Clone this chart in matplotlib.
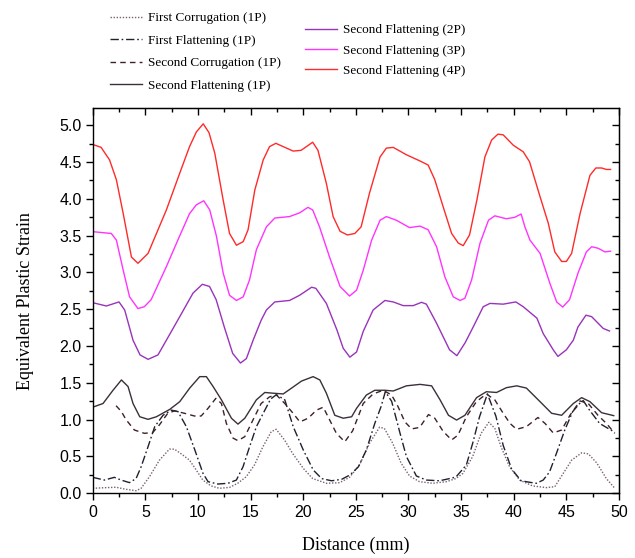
import matplotlib
matplotlib.use("Agg")
import matplotlib.pyplot as plt
from matplotlib.ticker import MultipleLocator, FormatStrFormatter

# ---------------- data ----------------
x_4p = [0, 0.8, 1.6, 2.25, 2.9, 3.68, 4.3, 5.26, 7.0, 8.27, 9.2, 9.85, 10.5, 11.05, 11.6, 12.4, 13.0,
        13.66, 14.3, 14.76, 15.4, 16.2, 16.8, 17.4, 18.1, 19.04, 19.8, 20.9, 21.4, 22.2, 22.84, 23.5,
        24.2, 24.9, 25.5, 26.3, 27.3, 27.9, 28.55, 29.8, 31.1, 31.87, 32.5, 33.3, 34.1, 34.73, 35.2,
        35.8, 36.5, 37.26, 37.9, 38.5, 39.0, 39.95, 40.9, 41.5, 42.5, 43.28, 43.9, 44.55, 45.0, 45.5,
        46.3, 47.24, 47.8, 48.35, 48.8, 49.2]
y_4p = [4.74, 4.70, 4.53, 4.26, 3.80, 3.21, 3.125, 3.26, 3.85, 4.35, 4.71, 4.91, 5.02, 4.90, 4.62, 3.98,
        3.53, 3.37, 3.42, 3.58, 4.12, 4.53, 4.71, 4.755, 4.71, 4.65, 4.66, 4.77, 4.66, 4.21, 3.76, 3.56,
        3.51, 3.53, 3.62, 4.08, 4.57, 4.69, 4.70, 4.60, 4.515, 4.46, 4.26, 3.89, 3.53, 3.40, 3.365, 3.51,
        3.985, 4.57, 4.80, 4.88, 4.87, 4.73, 4.64, 4.505, 4.03, 3.67, 3.28, 3.15, 3.15, 3.26, 3.80, 4.32,
        4.42, 4.42, 4.40, 4.40]

x_3p = [0, 1.77, 2.25, 2.9, 3.5, 4.3, 4.9, 5.55, 7.0, 8.24, 9.2, 9.85, 10.55, 11.12, 11.76, 12.4, 13.0,
        13.66, 14.3, 14.9, 15.55, 16.5, 17.3, 18.7, 19.65, 20.45, 20.9, 21.55, 22.5, 23.5, 24.4, 25.07,
        25.7, 26.5, 27.3, 27.9, 28.85, 30.1, 31.1, 31.87, 32.67, 33.46, 34.25, 34.9, 35.36, 36.0, 36.8,
        37.6, 38.2, 39.3, 40.1, 40.7, 41.06, 41.54, 42.5, 43.44, 44.08, 44.65, 45.3, 46.1, 46.9, 47.4,
        48.0, 48.67, 49.2]
y_3p = [3.555, 3.53, 3.44, 3.03, 2.67, 2.51, 2.535, 2.63, 3.08, 3.49, 3.80, 3.92, 3.975, 3.85, 3.49, 2.99,
        2.69, 2.62, 2.67, 2.90, 3.31, 3.62, 3.74, 3.76, 3.81, 3.885, 3.85, 3.62, 3.21, 2.81, 2.68, 2.76,
        3.03, 3.44, 3.71, 3.76, 3.71, 3.61, 3.63, 3.58, 3.35, 2.94, 2.67, 2.62, 2.65, 2.90, 3.40, 3.71,
        3.77, 3.73, 3.75, 3.795, 3.62, 3.44, 3.26, 2.85, 2.60, 2.53, 2.63, 2.99, 3.28, 3.35, 3.33, 3.28,
        3.29]

x_2p = [0, 1.3, 2.5, 3.04, 3.83, 4.5, 5.26, 6.2, 7.0, 8.27, 9.53, 10.42, 11.1, 11.73, 12.5, 13.3, 14.04,
        14.6, 15.24, 16.0, 16.5, 17.3, 18.7, 19.65, 20.8, 21.2, 22.2, 23.2, 23.8, 24.43, 25.07, 25.7,
        26.64, 27.76, 28.55, 29.5, 30.45, 31.24, 31.7, 32.67, 33.9, 34.6, 35.4, 36.15, 37.1, 37.74, 39.0,
        40.2, 40.9, 42.2, 42.8, 43.75, 44.2, 45.0, 45.66, 46.1, 46.86, 47.4, 48.5, 49.1]
y_2p = [2.59, 2.545, 2.60, 2.49, 2.08, 1.88, 1.82, 1.88, 2.08, 2.40, 2.72, 2.84, 2.81, 2.63, 2.26, 1.90,
        1.77, 1.83, 2.08, 2.35, 2.49, 2.60, 2.62, 2.69, 2.80, 2.785, 2.58, 2.22, 1.97, 1.85, 1.92, 2.20,
        2.49, 2.62, 2.60, 2.55, 2.55, 2.595, 2.57, 2.31, 1.95, 1.87, 2.05, 2.26, 2.535, 2.58, 2.57, 2.60,
        2.535, 2.38, 2.17, 1.95, 1.86, 1.95, 2.08, 2.26, 2.42, 2.40, 2.24, 2.205]

x_sf1 = [0, 0.98, 1.93, 2.73, 3.36, 3.83, 4.47, 5.26, 6.05, 7.32, 8.27, 9.22, 10.17, 10.8, 11.44, 12.23,
         13.18, 13.8, 14.45, 15.55, 16.35, 17.14, 18.1, 18.9, 19.84, 20.94, 21.58, 22.2, 23.0, 23.8, 24.6,
         25.07, 26.0, 26.8, 27.76, 28.55, 29.8, 31.1, 32.2, 33.0, 33.8, 34.57, 35.36, 36.47, 37.4, 38.37,
         39.3, 40.28, 41.2, 42.5, 43.6, 44.55, 45.66, 46.45, 47.24, 48.35, 49.5]
y_sf1 = [1.17, 1.22, 1.40, 1.54, 1.45, 1.22, 1.04, 1.005, 1.04, 1.14, 1.245, 1.43, 1.585, 1.585, 1.45,
         1.27, 1.02, 0.94, 1.02, 1.27, 1.37, 1.36, 1.35, 1.43, 1.525, 1.585, 1.54, 1.36, 1.06, 1.02, 1.04,
         1.155, 1.335, 1.40, 1.40, 1.39, 1.46, 1.48, 1.46, 1.27, 1.06, 0.995, 1.06, 1.30, 1.38, 1.37,
         1.435, 1.46, 1.43, 1.245, 1.087, 1.06, 1.22, 1.30, 1.245, 1.095, 1.055]

x_sc1 = [2.22, 2.73, 3.17, 3.96, 4.9, 5.7, 6.34, 7.13, 7.77, 8.72, 9.67, 10.3, 10.96, 11.7, 12.23, 12.7,
         13.33, 13.8, 14.45, 15.24, 16.0, 16.8, 17.46, 18.25, 19.04, 19.68, 20.47, 21.26, 21.9, 22.5,
         23.15, 23.95, 24.7, 25.7, 26.64, 27.6, 28.4, 29.0, 29.66, 30.3, 31.06, 31.9, 32.5, 33.3, 34.1,
         34.7, 35.5, 36.45, 37.4, 38.2, 39.0, 39.64, 40.27, 41.2, 42.3, 42.97, 43.75, 44.55, 45.34, 46.3,
         47.08, 48.0, 48.8, 49.6]
y_sc1 = [1.19, 1.11, 1.0, 0.86, 0.815, 0.825, 0.93, 1.087, 1.12, 1.087, 1.05, 1.05, 1.155, 1.29, 1.22,
         0.95, 0.75, 0.715, 0.77, 1.0, 1.22, 1.31, 1.335, 1.22, 1.087, 0.97, 1.02, 1.13, 1.17, 1.0, 0.815,
         0.70, 0.85, 1.22, 1.35, 1.40, 1.335, 1.18, 0.97, 0.875, 0.895, 1.07, 1.02, 0.84, 0.725, 0.79,
         1.04, 1.245, 1.35, 1.27, 1.087, 0.95, 0.87, 0.905, 1.03, 0.95, 0.82, 0.86, 1.06, 1.255, 1.22,
         1.06, 0.95, 0.815]

x_ff1 = [0, 1.11, 2.06, 2.7, 3.49, 4.12, 4.6, 5.25, 5.89, 6.68, 7.47, 8.1, 8.9, 9.7, 10.48, 10.96, 11.9,
         12.85, 13.65, 14.28, 14.9, 15.55, 16.2, 16.9, 17.45, 18.25, 19.05, 20.0, 20.95, 21.75, 22.7,
         23.65, 24.45, 25.24, 26.0, 26.8, 27.4, 27.8, 28.4, 29.2, 29.8, 30.75, 31.7, 32.95, 33.9, 34.5,
         35.5, 36.1, 36.75, 37.5, 38.3, 39.0, 39.8, 40.7, 41.5, 42.15, 42.8, 43.4, 44.05, 44.85, 45.6,
         46.26, 46.6, 47.2, 48.15, 49.1, 49.6]
y_ff1 = [0.217, 0.18, 0.217, 0.18, 0.145, 0.20, 0.36, 0.63, 0.905, 1.06, 1.13, 1.11, 0.905, 0.59, 0.27,
         0.158, 0.126, 0.136, 0.18, 0.36, 0.63, 0.905, 1.087, 1.28, 1.34, 1.27, 0.905, 0.59, 0.317, 0.20,
         0.17, 0.19, 0.25, 0.36, 0.59, 0.95, 1.18, 1.38, 1.25, 0.815, 0.50, 0.235, 0.18, 0.17, 0.20, 0.22,
         0.385, 0.68, 1.04, 1.35, 1.05, 0.65, 0.33, 0.17, 0.15, 0.136, 0.18, 0.29, 0.54, 0.86, 1.11, 1.22,
         1.26, 1.13, 0.95, 0.87, 0.83]

x_fc1 = [0, 1.27, 2.22, 3.17, 4.12, 4.6, 5.39, 6.34, 7.29, 7.77, 8.56, 9.2, 9.83, 10.46, 11.25, 12.04,
         13.0, 13.78, 14.58, 15.37, 16.16, 16.96, 17.43, 18.22, 19.0, 20.0, 20.9, 22.2, 23.45, 24.4,
         25.35, 26.3, 27.25, 27.7, 28.5, 29.3, 30.1, 31.05, 32.3, 33.6, 34.5, 35.17, 36.1, 36.9, 37.64,
         38.2, 38.8, 39.6, 40.56, 41.8, 43.1, 43.9, 44.7, 45.5, 46.45, 47.1, 47.9, 48.8, 49.6]
y_fc1 = [0.068, 0.077, 0.082, 0.054, 0.035, 0.068, 0.225, 0.45, 0.60, 0.60, 0.52, 0.45, 0.317, 0.18,
         0.10, 0.068, 0.08, 0.136, 0.225, 0.385, 0.63, 0.837, 0.87, 0.725, 0.54, 0.34, 0.20, 0.136, 0.144,
         0.217, 0.385, 0.68, 0.897, 0.883, 0.68, 0.41, 0.235, 0.158, 0.136, 0.158, 0.20, 0.27, 0.50,
         0.815, 0.965, 0.883, 0.63, 0.36, 0.18, 0.10, 0.077, 0.09, 0.27, 0.45, 0.55, 0.535, 0.41, 0.20,
         0.068]

labels_left = ["First Corrugation (1P)", "First Flattening (1P)",
               "Second Corrugation (1P)", "Second Flattening (1P)"]
labels_right = ["Second Flattening (2P)", "Second Flattening (3P)", "Second Flattening (4P)"]

# ---------------- figure ----------------
fig = plt.figure(figsize=(6.35, 5.58), dpi=100)
ax = fig.add_axes([92.7 / 635, 1 - 493.3 / 558, (619 - 92.7) / 635, (493.3 - 108) / 558])

lw = 1.0
l_fc1, = ax.plot(x_fc1, y_fc1, color="#7a6070", lw=lw, ls=(0, (1, 1.2)))
l_ff1, = ax.plot(x_ff1, y_ff1, color="#202030", lw=lw, ls=(0, (6, 2, 1.2, 2)))
l_sc1, = ax.plot(x_sc1, y_sc1, color="#402028", lw=lw, ls=(0, (4, 3)))
l_sf1, = ax.plot(x_sf1, y_sf1, color="#3a303a", lw=lw, ls="-")
l_2p, = ax.plot(x_2p, y_2p, color="#9933bb", lw=lw, ls="-")
l_3p, = ax.plot(x_3p, y_3p, color="#ff33ff", lw=lw, ls="-")
l_4p, = ax.plot(x_4p, y_4p, color="#ff2a2a", lw=lw, ls="-")

ax.set_xlim(0, 50)
ax.set_ylim(0, 5.235)

ax.xaxis.set_major_locator(MultipleLocator(5))
ax.xaxis.set_minor_locator(MultipleLocator(2.5))
ax.yaxis.set_major_locator(MultipleLocator(0.5))
ax.yaxis.set_minor_locator(MultipleLocator(0.25))
ax.yaxis.set_major_formatter(FormatStrFormatter("%.1f"))

ax.tick_params(which="major", direction="out", length=5, width=1, pad=3.5, labelsize=11.5)
ax.tick_params(which="minor", direction="out", length=3, width=1)
ax.tick_params(axis="y", which="major", pad=3)
for lab in ax.get_xticklabels() + ax.get_yticklabels():
    lab.set_fontfamily("Liberation Sans")

secx = ax.secondary_xaxis("top")
secx.xaxis.set_major_locator(MultipleLocator(5))
secx.xaxis.set_minor_locator(MultipleLocator(2.5))
secx.tick_params(which="major", direction="in", length=5, width=1, labeltop=False)
secx.tick_params(which="minor", direction="in", length=3, width=1)
secy = ax.secondary_yaxis("right")
secy.yaxis.set_major_locator(MultipleLocator(0.5))
secy.yaxis.set_minor_locator(MultipleLocator(0.25))
secy.tick_params(which="major", direction="in", length=5, width=1, labelright=False)
secy.tick_params(which="minor", direction="in", length=3, width=1)

for sp in ax.spines.values():
    sp.set_linewidth(1.0)

ax.set_xlabel("Distance (mm)", family="Liberation Serif", fontsize=13)
ax.set_ylabel("Equivalent Plastic Strain", family="Liberation Serif", fontsize=13)
ax.xaxis.set_label_coords(0.5, -0.134)
ax.xaxis.label.set_va("center")
ax.yaxis.set_label_coords(-0.128, 0.5)
ax.yaxis.label.set_va("center")

leg_kw = dict(frameon=False, prop={"family": "Liberation Serif", "size": 9.5},
              handlelength=2.4, handletextpad=0.5, borderpad=0, borderaxespad=0,
              loc="upper left")
leg1 = fig.legend([l_fc1, l_ff1, l_sc1, l_sf1], labels_left, labelspacing=0.78,
                  bbox_to_anchor=(110 / 635, 1 - 12 / 558), **leg_kw)
leg2 = fig.legend([l_2p, l_3p, l_4p], labels_right, labelspacing=0.62,
                  bbox_to_anchor=(305 / 635, 1 - 24 / 558), **leg_kw)

fig.savefig("out.png", dpi=100)
